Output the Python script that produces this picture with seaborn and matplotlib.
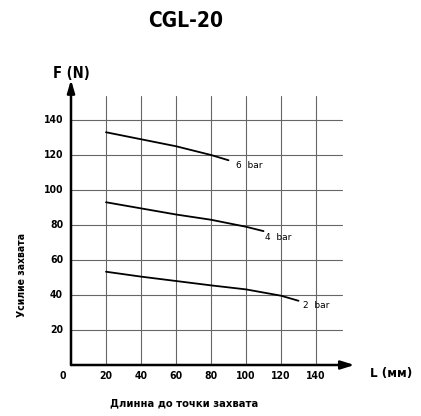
import matplotlib
matplotlib.use("Agg")
import matplotlib.pyplot as plt
import numpy as np
import pandas as pd
import seaborn as sns

# values
length_6bar = [20, 40, 60, 80, 90]
force_6bar = [133, 129, 125, 120, 117]
length_4bar = [20, 40, 60, 80, 100, 110]
force_4bar = [93, 89.5, 86, 83, 79, 76.5]
length_2bar = [20, 40, 60, 80, 100, 120, 130]
force_2bar = [53.3, 50.5, 48, 45.5, 43.2, 39.6, 36.7]
pressure_labels = ["6 bar", "4 bar", "2 bar"]
label_anchor = [(94, 114), (111, 73), (132.5, 34)]
x_ticks = [20, 40, 60, 80, 100, 120, 140]
y_ticks = [20, 40, 60, 80, 100, 120, 140]

frames = []
for name, xs, ys in zip(pressure_labels, [length_6bar, length_4bar, length_2bar],
                        [force_6bar, force_4bar, force_2bar]):
    frames.append(pd.DataFrame({"L": xs, "F": ys, "pressure": name}))
df = pd.concat(frames, ignore_index=True)

sns.set_style("white")
plt.rcParams["font.family"] = ["DejaVu Sans"]
plt.rcParams["font.stretch"] = "condensed"
plt.rcParams["text.color"] = "black"

W, H = 421, 416
fig = plt.figure(figsize=(W / 100, H / 100), dpi=100)
scale = 1.75  # px per data unit
ax = fig.add_axes([71 / W, (H - 365) / H, 170 * scale / W, 170 * scale / H])
ax.set_xlim(0, 170)
ax.set_ylim(0, 170)

# grid
for gx in x_ticks:
    ax.plot([gx, gx], [0, 154], color="#666666", lw=0.8, zorder=1)
for gy in y_ticks:
    ax.plot([0, 155], [gy, gy], color="#666666", lw=0.8, zorder=1)

sns.lineplot(data=df, x="L", y="F", units="pressure", estimator=None,
             color="black", lw=1.3, ax=ax, legend=False, zorder=3)

for text, (lx, ly) in zip(pressure_labels, label_anchor):
    ax.text(lx, ly, text.replace(" ", "  "), fontsize=6.5, fontstretch="normal",
            ha="left", va="center", zorder=4)

# axis arrows
ax.annotate("", xy=(162, 0), xytext=(0, 0),
            arrowprops=dict(arrowstyle="-|>,head_length=0.8,head_width=0.25",
                            color="black", lw=1.8, shrinkA=0, shrinkB=0))
ax.annotate("", xy=(0, 163), xytext=(0, 0),
            arrowprops=dict(arrowstyle="-|>,head_length=0.75,head_width=0.22",
                            color="black", lw=1.8, shrinkA=0, shrinkB=0))

for s in ax.spines.values():
    s.set_visible(False)
ax.set_xticks([])
ax.set_yticks([])
ax.set_xlabel("")
ax.set_ylabel("")

for v in x_ticks:
    ax.text(v, -6.5, str(v), ha="center", va="center", fontsize=7.5, fontweight="bold")
ax.text(-5, -6.5, "0", ha="center", va="center", fontsize=7.5, fontweight="bold")
for v in y_ticks:
    ax.text(-4.5, v, str(v), ha="right", va="center", fontsize=7.5, fontweight="bold")

fig.text(186 / W, 1 - 21 / H, "CGL-20", ha="center", va="center",
         fontsize=15, fontweight="bold")
fig.text(71.5 / W, 1 - 73.5 / H, "F (N)", ha="center", va="center",
         fontsize=10.5, fontweight="bold")
fig.text(391 / W, 1 - 373 / H, "L (мм)", ha="center", va="center",
         fontsize=9.5, fontweight="bold")
fig.text(184 / W, 1 - 403 / H, "Длинна до точки захвата", ha="center",
         va="center", fontsize=8, fontweight="bold")
fig.text(22 / W, 1 - 275 / H, "Усилие захвата", ha="center", va="center",
         rotation=90, fontsize=7.5, fontweight="bold")

fig.savefig("out.png", dpi=100)
